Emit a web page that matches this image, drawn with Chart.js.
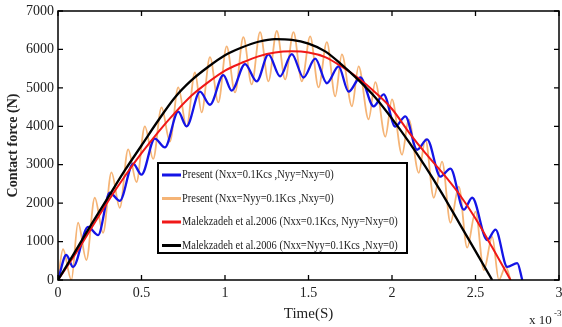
<!DOCTYPE html>
<html>
<head>
<meta charset="utf-8">
<script src="https://cdn.jsdelivr.net/npm/chart.js@4.4.1/dist/chart.umd.min.js"></script>
<style>
  html, body { margin: 0; padding: 0; background: #fff; }
  #wrap { width: 562px; height: 327px; position: relative; }
</style>
</head>
<body>
<div id="wrap"><canvas id="c"></canvas></div>
<script>
// DATA (time in ms, force in N)
const tickX = [0, 0.5, 1, 1.5, 2, 2.5, 3];
const tickY = [0, 1000, 2000, 3000, 4000, 5000, 6000, 7000];

const blueX = [0, 0.05, 0.09, 0.18, 0.24, 0.31, 0.37, 0.45, 0.5, 0.58, 0.64, 0.72, 0.77, 0.85, 0.91, 0.99, 1.04, 1.12, 1.19, 1.26, 1.33, 1.4, 1.47, 1.54, 1.61, 1.68, 1.74, 1.81, 1.89, 1.95, 2.02, 2.08, 2.15, 2.21, 2.29, 2.35, 2.43, 2.48, 2.57, 2.62, 2.69, 2.75, 2.78];
const blueY = [0, 650, 340, 1380, 1170, 2270, 2060, 3030, 2740, 3680, 3450, 4380, 4000, 4900, 4560, 5330, 4930, 5620, 5170, 5870, 5300, 5880, 5270, 5760, 5120, 5560, 4900, 5270, 4520, 4830, 3990, 4260, 3390, 3660, 2690, 2900, 1830, 2140, 1040, 1310, 340, 440, 0];

const orangeX = [0, 0.03, 0.08, 0.12, 0.17, 0.22, 0.27, 0.32, 0.37, 0.42, 0.47, 0.52, 0.57, 0.62, 0.67, 0.72, 0.77, 0.82, 0.86, 0.91, 0.96, 1.01, 1.06, 1.11, 1.16, 1.21, 1.26, 1.31, 1.36, 1.41, 1.46, 1.51, 1.56, 1.61, 1.66, 1.7, 1.76, 1.8, 1.86, 1.9, 1.96, 2.0, 2.06, 2.1, 2.16, 2.2, 2.25, 2.3, 2.35, 2.4, 2.45, 2.5, 2.55, 2.6, 2.64, 2.68, 2.71];
const orangeY = [0, 800, 0, 1490, 520, 2140, 1230, 2800, 1880, 3400, 2550, 4000, 3150, 4490, 3600, 5010, 3990, 5400, 4360, 5800, 4620, 6080, 4880, 6320, 5090, 6450, 5170, 6480, 5220, 6450, 5170, 6340, 5010, 6190, 4780, 5870, 4520, 5560, 4180, 5150, 3730, 4700, 3260, 4180, 2790, 3660, 2140, 3080, 1490, 2430, 840, 1780, 260, 1120, 0, 350, 0];

const redX = [0, 0.1, 0.2, 0.3, 0.4, 0.5, 0.6, 0.7, 0.8, 0.9, 1.0, 1.1, 1.2, 1.3, 1.4, 1.5, 1.6, 1.7, 1.8, 1.9, 2.0, 2.1, 2.2, 2.3, 2.4, 2.5, 2.6, 2.71];
const redY = [0, 650, 1350, 2050, 2700, 3300, 3850, 4350, 4800, 5150, 5450, 5650, 5820, 5920, 5950, 5920, 5800, 5550, 5250, 4880, 4450, 3850, 3300, 2800, 2250, 1600, 850, 0];

const blackX = [0, 0.1, 0.2, 0.3, 0.4, 0.5, 0.6, 0.7, 0.8, 0.9, 1.0, 1.1, 1.2, 1.3, 1.4, 1.5, 1.6, 1.7, 1.8, 1.9, 2.0, 2.1, 2.2, 2.3, 2.4, 2.5, 2.6];
const blackY = [0, 720, 1450, 2150, 2850, 3500, 4150, 4750, 5200, 5550, 5850, 6050, 6200, 6270, 6250, 6150, 5950, 5600, 5200, 4750, 4200, 3600, 2950, 2250, 1500, 750, 0];

const labels = [
  "Present (Nxx=0.1Kcs ,Nyy=Nxy=0)",
  "Present (Nxx=Nyy=0.1Kcs ,Nxy=0)",
  "Malekzadeh et al.2006 (Nxx=0.1Kcs, Nyy=Nxy=0)",
  "Malekzadeh et al.2006 (Nxx=Nyy=0.1Kcs ,Nxy=0)",
];

const pts = (xs, ys) => xs.map((x, i) => ({ x, y: ys[i] }));

Chart.defaults.font.family = "'Liberation Serif', 'Times New Roman', serif";
Chart.defaults.color = "#222";

// box + inward ticks like matlab
const frame = {
  id: "frame",
  afterDraw(chart) {
    const { ctx, chartArea: a, scales } = chart;
    ctx.save();
    ctx.strokeStyle = "#000";
    ctx.lineWidth = 1.5;
    ctx.strokeRect(a.left, a.top, a.right - a.left, a.bottom - a.top);
    ctx.lineWidth = 1.3;
    ctx.beginPath();
    tickX.forEach((v) => {
      const px = scales.x.getPixelForValue(v);
      ctx.moveTo(px, a.bottom); ctx.lineTo(px, a.bottom - 5);
      ctx.moveTo(px, a.top); ctx.lineTo(px, a.top + 5);
    });
    tickY.forEach((v) => {
      const py = scales.y.getPixelForValue(v);
      ctx.moveTo(a.left, py); ctx.lineTo(a.left + 5, py);
      ctx.moveTo(a.right, py); ctx.lineTo(a.right - 5, py);
    });
    ctx.stroke();

    // exponent label
    ctx.fillStyle = "#222";
    ctx.font = "13px 'Liberation Serif'";
    ctx.textBaseline = "alphabetic";
    ctx.fillText("x 10", 529, 324);
    ctx.font = "9px 'Liberation Serif'";
    ctx.fillText("-3", 554, 316);

    // legend box inside plot
    const lx = 158, ly = 163, lw = 249, lh = 90;
    ctx.fillStyle = "#fff";
    ctx.fillRect(lx, ly, lw, lh);
    ctx.lineWidth = 2;
    ctx.strokeStyle = "#000";
    ctx.strokeRect(lx, ly, lw, lh);
    ctx.font = "12px 'Liberation Serif'";
    ctx.textBaseline = "middle";
    chart.data.datasets.forEach((ds, i) => {
      const y = ly + 12 + i * 23.5;
      ctx.strokeStyle = ds.borderColor;
      ctx.lineWidth = 3;
      ctx.beginPath();
      ctx.moveTo(lx + 4, y); ctx.lineTo(lx + 23, y);
      ctx.stroke();
      ctx.fillStyle = "#222";
      ctx.save();
      ctx.translate(lx + 24, y);
      ctx.scale(0.87, 1);
      ctx.fillText(ds.label, 0, 0);
      ctx.restore();
    });
    ctx.restore();
  },
};

new Chart(document.getElementById("c"), {
  type: "line",
  data: {
    datasets: [
      { label: labels[0], data: pts(blueX, blueY), borderColor: "#1414e6", borderWidth: 2.3, order: 2 },
      { label: labels[1], data: pts(orangeX, orangeY), borderColor: "#f5b476", borderWidth: 1.8, order: 3 },
      { label: labels[2], data: pts(redX, redY), borderColor: "#f01818", borderWidth: 2, order: 1 },
      { label: labels[3], data: pts(blackX, blackY), borderColor: "#000", borderWidth: 2.3, order: 0 },
    ],
  },
  options: {
    responsive: true,
    maintainAspectRatio: false,
    animation: false,
    elements: {
      point: { radius: 0 },
      line: { cubicInterpolationMode: "monotone", fill: false },
    },
    layout: { padding: { top: 11, right: 3, left: 0, bottom: 0 } },
    plugins: { legend: { display: false }, tooltip: { enabled: false } },
    scales: {
      x: {
        type: "linear",
        min: 0,
        max: 3,
        afterBuildTicks: (s) => { s.ticks = tickX.map((v) => ({ value: v })); },
        afterFit: (s) => { s.height = 47; s.paddingLeft = 0; s.paddingRight = 0; },
        grid: { display: false, drawTicks: false },
        border: { display: false },
        ticks: { padding: 5, color: "#222", font: { size: 14 }, maxRotation: 0, callback: (v) => String(v) },
        title: { display: true, text: "Time(S)", color: "#222", font: { size: 15 }, padding: { top: 0 } },
      },
      y: {
        min: 0,
        max: 7000,
        afterBuildTicks: (s) => { s.ticks = tickY.map((v) => ({ value: v })); },
        afterFit: (s) => { s.width = 58; s.paddingTop = 0; s.paddingBottom = 0; },
        grid: { display: false, drawTicks: false },
        border: { display: false },
        ticks: { padding: 4, color: "#222", font: { size: 14 }, callback: (v) => String(v) },
        title: { display: true, text: "Contact force (N)", color: "#222", font: { size: 14, weight: "bold" }, padding: { top: 5, bottom: 2 } },
      },
    },
  },
  plugins: [frame],
});
</script>
</body>
</html>
